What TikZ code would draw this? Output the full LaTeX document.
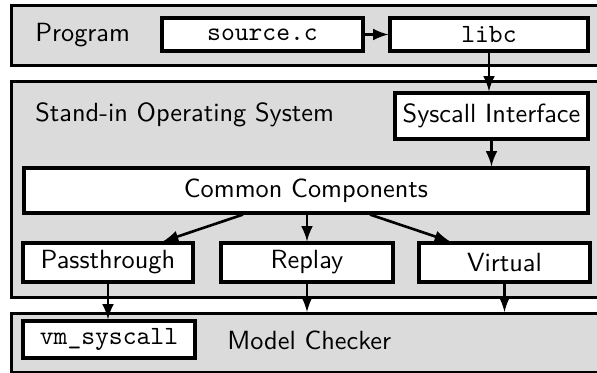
\documentclass[tikz,border=0pt]{standalone}
\usetikzlibrary{calc,arrows}
\begin{document}
\begin{tikzpicture}[
		x=0.38pt,y=-0.38pt,
		font=\sffamily,
		panel/.style={draw,fill=black!14,line width=1.2pt,anchor=north west,minimum width=232pt,inner sep=0pt},
		box/.style={draw,fill=white,line width=1.2pt,inner sep=0pt},
		arr/.style={-latex,line width=1pt}
	]
	\useasboundingbox (0,0) rectangle (597,373);
	% layers
	\node[panel,minimum height=22.8pt] (PR) at (10,4) {};
	\node[panel,minimum height=82.1pt] (OS) at (10,80) {};
	\node[panel,minimum height=22.4pt] (MC) at (10,312) {};
	\node[anchor=west] (tP) at (26,35) {Program};
	\node[anchor=west] (tO) at (26,115) {Stand-in Operating System};
	\node[anchor=west] (tM) at (218,340) {Model Checker};
	% boxes
	\node[box,minimum width=76.4pt,minimum height=12.5pt] (S) at (262.5,34.5) {
		\ttfamily source.c
	};
	\node[box,minimum width=75.2pt,minimum height=12.5pt] (L) at (489,34.5) {
		\ttfamily libc
	};
	\node[box,minimum width=73.3pt,minimum height=17.5pt] (I) at (491.5,116) {
		Syscall Interface
	};
	\node[box,minimum width=214.3pt,minimum height=17.1pt] (C) at (306,190.5) {
		Common Components
	};
	\node[box,minimum width=64.6pt,minimum height=14.8pt] (P) at (108,262.5) {
		Passthrough
	};
	\node[box,minimum width=65.4pt,minimum height=14.8pt] (R) at (307,262.5) {
		Replay
	};
	\node[box,minimum width=65pt,minimum height=14.8pt] (V) at (504.5,262.5) {
		Virtual
	};
	\node[box,minimum width=65.4pt,minimum height=14.1pt] (K) at (109,339.5) {
		\ttfamily vm\_syscall
	};
	% calls
	\draw[arr] (S) -- (L);
	\draw[arr] (L.south) -- (L.south |- I.north);
	\draw[arr] (I.south) -- (I.south |- C.north);
	\draw[arr] ($(C.south)+(-63,0)$) -- ($(P.north)+(55,0)$);
	\draw[arr] (C.south -| R.north) -- (R.north);
	\draw[arr] ($(C.south)+(64,0)$) -- ($(V.north)+(-54.5,0)$);
	\draw[arr] (P.south) -- (P.south |- K.north);
	\draw[arr] (R.south) -- (R.south |- MC.north);
	\draw[arr] (V.south) -- (V.south |- MC.north);
\end{tikzpicture}
\end{document}
